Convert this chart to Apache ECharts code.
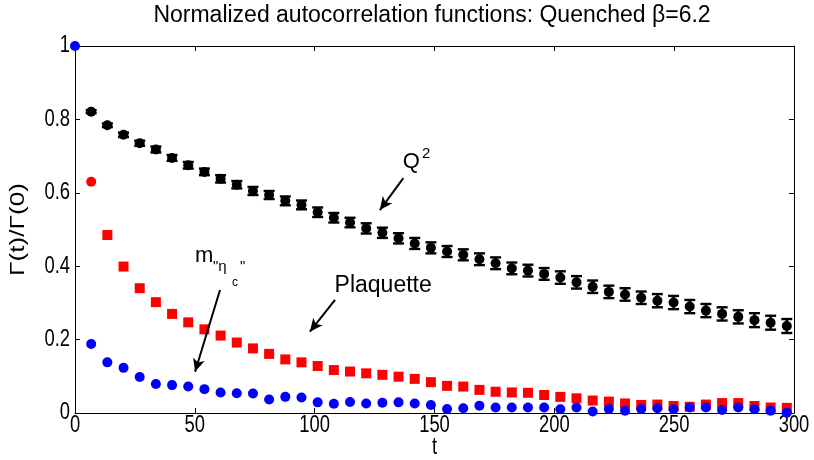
<!DOCTYPE html>
<html><head><meta charset="utf-8">
<script src="https://cdn.jsdelivr.net/npm/echarts@6/dist/echarts.min.js"></script>
<style>html,body{margin:0;padding:0;background:#fff}#c{width:814px;height:460px}</style>
</head><body><div id="c"></div>
<script>
// Monte Carlo time t
const tValues = [0, 6.75, 13.5, 20.25, 27, 33.75, 40.5, 47.25, 54, 60.75, 67.5, 74.25, 81, 87.75, 94.5, 101.25, 108, 114.75, 121.5, 128.25, 135, 141.75, 148.5, 155.25, 162, 168.75, 175.5, 182.25, 189, 195.75, 202.5, 209.25, 216, 222.75, 229.5, 236.25, 243, 249.75, 256.5, 263.25, 270, 276.75, 283.5, 290.25, 297];
// Q^2 autocorrelation (black, with error bars)
const q2 = [null, 0.821, 0.784, 0.758, 0.735, 0.718, 0.695, 0.675, 0.657, 0.638, 0.622, 0.605, 0.594, 0.578, 0.567, 0.547, 0.532, 0.519, 0.503, 0.491, 0.476, 0.462, 0.450, 0.440, 0.431, 0.419, 0.408, 0.394, 0.388, 0.379, 0.369, 0.356, 0.344, 0.330, 0.323, 0.314, 0.306, 0.301, 0.290, 0.279, 0.270, 0.262, 0.253, 0.246, 0.237];
const q2Err = [0, 0.004, 0.005, 0.006, 0.007, 0.008, 0.008, 0.009, 0.009, 0.010, 0.010, 0.011, 0.011, 0.012, 0.012, 0.013, 0.013, 0.013, 0.014, 0.014, 0.014, 0.015, 0.015, 0.015, 0.015, 0.016, 0.016, 0.016, 0.016, 0.016, 0.017, 0.017, 0.017, 0.017, 0.017, 0.017, 0.018, 0.018, 0.018, 0.018, 0.018, 0.018, 0.019, 0.019, 0.019];
// Plaquette autocorrelation (red)
const plaquette = [null, 0.630, 0.485, 0.399, 0.340, 0.302, 0.270, 0.247, 0.228, 0.211, 0.192, 0.176, 0.161, 0.146, 0.138, 0.128, 0.117, 0.113, 0.108, 0.104, 0.099, 0.093, 0.084, 0.074, 0.072, 0.063, 0.058, 0.056, 0.055, 0.049, 0.044, 0.040, 0.034, 0.031, 0.026, 0.022, 0.023, 0.019, 0.017, 0.023, 0.027, 0.027, 0.019, 0.015, 0.014];
// m_"eta_c" autocorrelation (blue)
const metac = [1, 0.188, 0.138, 0.123, 0.098, 0.079, 0.076, 0.072, 0.065, 0.056, 0.054, 0.053, 0.037, 0.044, 0.042, 0.029, 0.025, 0.030, 0.026, 0.028, 0.029, 0.026, 0.022, 0.011, 0.013, 0.020, 0.015, 0.015, 0.015, 0.015, 0.010, 0.015, 0.004, 0.011, 0.006, 0.011, 0.013, 0.010, 0.015, 0.015, 0.008, 0.015, 0.010, 0.006, 0.001];
// tick labels
const xTickValues = [0, 50, 100, 150, 200, 250, 300];
const xTickLabels = ['0', '50', '100', '150', '200', '250', '300'];
const yTickValues = [0, 0.2, 0.4, 0.6, 0.8, 1];
const yTickLabels = ['0', '0.2', '0.4', '0.6', '0.8', '1'];

const FONT = 'Liberation Sans, Arial, Helvetica, sans-serif';

const chart = echarts.init(document.getElementById('c'), null, {renderer: 'canvas'});

const pairs = (ys) => tValues.map((t, i) => [t, ys[i]]).filter(p => p[1] !== null);

const axisCommon = {
  type: 'value',
  axisLine: {show: true, onZero: false, lineStyle: {color: '#000', width: 1}},
  axisTick: {show: true, inside: true, length: 5, lineStyle: {color: '#000'}},
  axisLabel: {show: false},
  splitLine: {show: false}
};

const option = {
  animation: false,
  backgroundColor: '#fff',
  grid: {left: 75, right: 20, top: 46, bottom: 47},
  xAxis: [
    Object.assign({}, axisCommon, {min: 0, max: 300, interval: 50, position: 'bottom'}),
    Object.assign({}, axisCommon, {min: 0, max: 300, interval: 50, position: 'top'})
  ],
  yAxis: [
    Object.assign({}, axisCommon, {min: 0, max: 1, interval: 0.2, position: 'left'}),
    Object.assign({}, axisCommon, {min: 0, max: 1, interval: 0.2, position: 'right'})
  ],
  series: [
    {
      type: 'custom',
      name: 'Q2err',
      silent: true,
      z: 2,
      data: tValues.map((t, i) => [t, q2[i], q2Err[i]]).filter(d => d[1] !== null),
      renderItem: function (params, api) {
        const t = api.value(0), v = api.value(1), e = api.value(2);
        if (!e) return null;
        const lo = api.coord([t, v - e]);
        const hi = api.coord([t, v + e]);
        const cw = 5.5;
        const st = {stroke: '#000', lineWidth: 2.4};
        return {
          type: 'group',
          children: [
            {type: 'line', shape: {x1: lo[0], y1: lo[1], x2: hi[0], y2: hi[1]}, style: st},
            {type: 'line', shape: {x1: lo[0] - cw, y1: lo[1], x2: lo[0] + cw, y2: lo[1]}, style: st},
            {type: 'line', shape: {x1: hi[0] - cw, y1: hi[1], x2: hi[0] + cw, y2: hi[1]}, style: st}
          ]
        };
      }
    },
    {
      type: 'scatter', name: 'Q2', z: 3,
      symbol: 'circle', symbolSize: 10,
      itemStyle: {color: '#000', opacity: 1},
      emphasis: {disabled: true},
      data: pairs(q2)
    },
    {
      type: 'scatter', name: 'Plaquette', z: 4,
      symbol: 'rect', symbolSize: 10,
      itemStyle: {color: '#ff0000', opacity: 1},
      emphasis: {disabled: true},
      data: pairs(plaquette).map((p, i) => i === 0 ? {value: p, symbol: 'circle'} : p)
    },
    {
      type: 'scatter', name: 'metac', z: 5,
      symbol: 'circle', symbolSize: 10,
      itemStyle: {color: '#0000ff', opacity: 1},
      emphasis: {disabled: true},
      data: pairs(metac)
    },
    {
      type: 'line', name: 'arrows', data: [], silent: true,
      markLine: {
        silent: true,
        symbol: ['none', 'arrow'],
        symbolSize: [9, 13],
        label: {show: false},
        lineStyle: {color: '#000', width: 2, type: 'solid'},
        emphasis: {disabled: true},
        data: [
          [{coord: [137.0, 0.640]}, {coord: [127.2, 0.553]}],
          [{coord: [108.5, 0.308]}, {coord: [98.0, 0.2215]}],
          [{coord: [60.5, 0.335]}, {coord: [50.1, 0.1125]}]
        ]
      }
    }
  ]
};
chart.setOption(option);

const toPx = (pt) => chart.convertToPixel({gridIndex: 0}, pt);

// annotation texts anchored in data coordinates
const notes = [
  {text: 'Q', at: [136.8, 0.685], size: 22},
  {text: '2', at: [144.8, 0.706], size: 15},
  {text: 'Plaquette', at: [108.3, 0.346], size: 23},
  {text: 'm', at: [50.1, 0.428], size: 22},
  {text: '"η', at: [57.6, 0.398], size: 15},
  {text: 'c', at: [65.5, 0.354], size: 12},
  {text: '"', at: [68.8, 0.398], size: 15}
];
const graphics = notes.map(n => {
  const p = toPx(n.at);
  return {
    type: 'text', x: p[0], y: p[1], silent: true, z: 10,
    style: {text: n.text, fill: '#000', font: n.size + 'px ' + FONT, textAlign: 'left', textVerticalAlign: 'middle'}
  };
});
// tick labels (tall, narrow face like the original)
xTickValues.forEach((v, i) => {
  const p = toPx([v, 0]);
  graphics.push({
    type: 'text', x: p[0], y: p[1] + 13, scaleX: 0.8, silent: true,
    style: {text: xTickLabels[i], fill: '#000', font: '23px ' + FONT, textAlign: 'center', textVerticalAlign: 'middle'}
  });
});
yTickValues.forEach((v, i) => {
  const p = toPx([0, v]);
  graphics.push({
    type: 'text', x: p[0] - 5, y: p[1], scaleX: 0.8, silent: true,
    style: {text: yTickLabels[i], fill: '#000', font: '23px ' + FONT, textAlign: 'right', textVerticalAlign: 'middle'}
  });
});
// axis names
const xMid = toPx([150, 0]);
graphics.push({
  type: 'text', x: xMid[0], y: xMid[1] + 35, scaleX: 0.8, silent: true,
  style: {text: 't', fill: '#000', font: '23px ' + FONT, textAlign: 'center', textVerticalAlign: 'middle'}
});
const yMid = toPx([0, 0.5]);
graphics.push({
  type: 'text', x: 18, y: yMid[1], rotation: Math.PI / 2, scaleX: 1.25, silent: true,
  style: {text: 'Γ(t)/Γ(0)', fill: '#000', font: '21px ' + FONT, textAlign: 'center', textVerticalAlign: 'middle'}
});
// title
graphics.push({
  type: 'text', x: 432, y: 16, silent: true,
  style: {text: 'Normalized autocorrelation functions: Quenched β=6.2', fill: '#000', font: '23px ' + FONT, textAlign: 'center', textVerticalAlign: 'middle'}
});
chart.setOption({graphic: graphics});
</script>
</body></html>
